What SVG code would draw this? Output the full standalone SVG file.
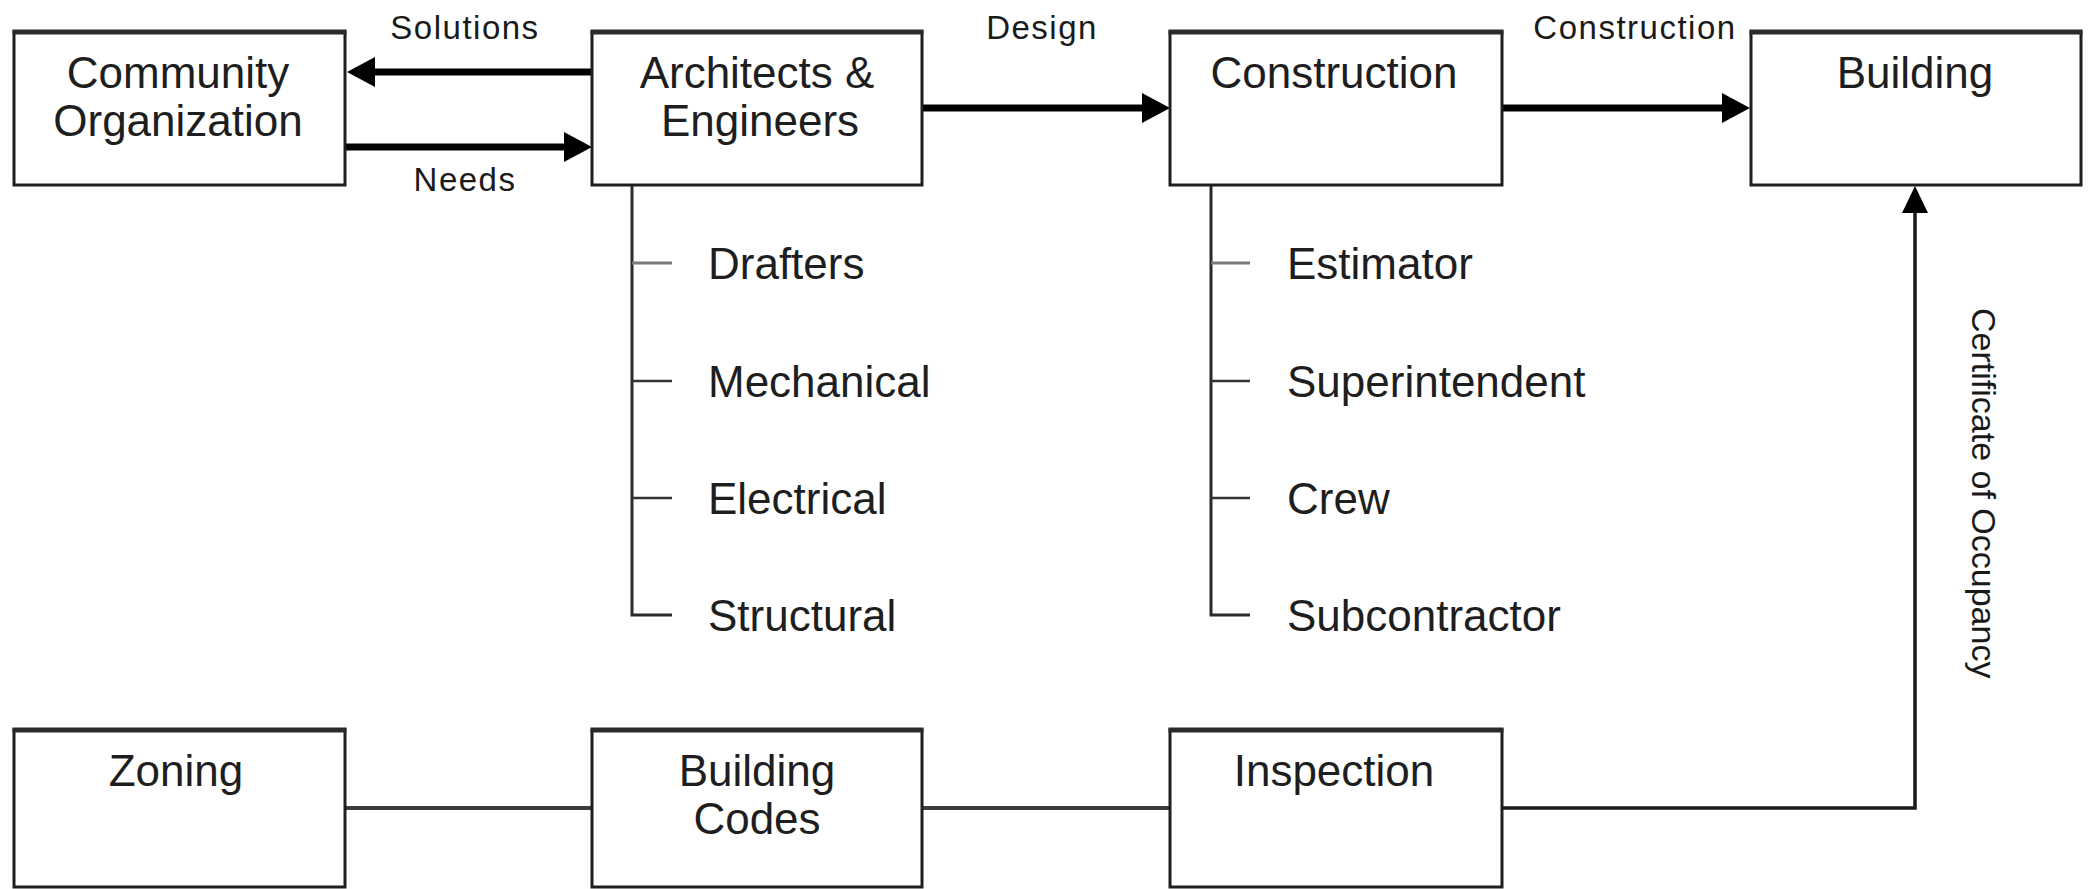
<svg xmlns="http://www.w3.org/2000/svg" width="2089" height="889" viewBox="0 0 2089 889">
  <style>
    .box { fill: #ffffff; stroke: #1e1e1e; stroke-width: 3; }
    .boxtop { stroke: #2a2a2a; stroke-width: 5; }
    .lbl { font-family: "Liberation Sans", Arial, sans-serif; font-size: 44px; fill: #1e1e1e; text-anchor: middle; }
    .sub { font-family: "Liberation Sans", Arial, sans-serif; font-size: 44px; fill: #1e1e1e; }
    .elbl { font-family: "Liberation Sans", Arial, sans-serif; font-size: 33px; fill: #1a1a1a; text-anchor: middle; letter-spacing: 1.5px; }
    .vlbl { font-family: "Liberation Sans", Arial, sans-serif; font-size: 34px; fill: #1a1a1a; }
    .thick { fill: none; stroke: #000000; stroke-width: 7; }
    .thin { fill: none; stroke: #1a1a1a; stroke-width: 3.5; }
    .gline { fill: none; stroke: #3c3c3c; stroke-width: 4; }
    .trunk { fill: none; stroke: #2a2a2a; stroke-width: 3; }
    .tick { fill: none; stroke: #333333; stroke-width: 2.5; }
    .tickl { fill: none; stroke: #7a7a7a; stroke-width: 3; }
  </style>
  <defs>
    <marker id="ah" markerUnits="userSpaceOnUse" markerWidth="30" markerHeight="30" refX="16" refY="15" orient="auto">
      <path d="M0,0 L28,15 L0,30 Z" fill="#000000"/>
    </marker>
    <marker id="ahs" markerUnits="userSpaceOnUse" markerWidth="28" markerHeight="26" refX="14" refY="13" orient="auto">
      <path d="M0,0 L27,13 L0,26 Z" fill="#000000"/>
    </marker>
  </defs>
  <rect width="2089" height="889" fill="#ffffff"/>

  <g id="connectors">
    <line class="thick" x1="592" y1="72" x2="359" y2="72" marker-end="url(#ah)"/>
    <line class="thick" x1="345" y1="147" x2="580" y2="147" marker-end="url(#ah)"/>
    <line class="thick" x1="922" y1="108" x2="1158" y2="108" marker-end="url(#ah)"/>
    <line class="thick" x1="1502" y1="108" x2="1738" y2="108" marker-end="url(#ah)"/>
    <polyline class="gline" points="345,808 592,808"/>
    <polyline class="gline" points="922,808 1170,808"/>
    <polyline class="thin" points="1502,808 1915,808 1915,199" marker-end="url(#ahs)"/>
    <polyline class="trunk" points="632,185 632,615 672,615"/>
    <line class="tickl" x1="632" y1="263" x2="672" y2="263"/>
    <line class="tick" x1="632" y1="381" x2="672" y2="381"/>
    <line class="tick" x1="632" y1="498" x2="672" y2="498"/>
    <polyline class="trunk" points="1211,185 1211,615 1250,615"/>
    <line class="tickl" x1="1211" y1="263" x2="1250" y2="263"/>
    <line class="tick" x1="1211" y1="381" x2="1250" y2="381"/>
    <line class="tick" x1="1211" y1="498" x2="1250" y2="498"/>
    <text class="elbl" x="465" y="39">Solutions</text>
    <text class="elbl" x="465" y="191">Needs</text>
    <text class="elbl" x="1042" y="39">Design</text>
    <text class="elbl" x="1635" y="39">Construction</text>
    <text class="vlbl" transform="translate(1972,308) rotate(90)">Certificate of Occupancy</text>
  </g>

  <g id="community">
    <rect class="box" x="14" y="32" width="331" height="153"/>
    <line class="boxtop" x1="12.5" y1="32" x2="346.5" y2="32"/>
    <text class="lbl" x="178" y="88">Community</text>
    <text class="lbl" x="178" y="136">Organization</text>
  </g>
  <g id="architects">
    <rect class="box" x="592" y="32" width="330" height="153"/>
    <line class="boxtop" x1="590.5" y1="32" x2="923.5" y2="32"/>
    <text class="lbl" x="757" y="88">Architects &amp;</text>
    <text class="lbl" x="760" y="136">Engineers</text>
  </g>
  <g id="construction">
    <rect class="box" x="1170" y="32" width="332" height="153"/>
    <line class="boxtop" x1="1168.5" y1="32" x2="1503.5" y2="32"/>
    <text class="lbl" x="1334" y="88">Construction</text>
  </g>
  <g id="building">
    <rect class="box" x="1751" y="32" width="330" height="153"/>
    <line class="boxtop" x1="1749.5" y1="32" x2="2082.5" y2="32"/>
    <text class="lbl" x="1915" y="88">Building</text>
  </g>

  <g id="ae-roles">
    <text class="sub" x="708" y="279">Drafters</text>
    <text class="sub" x="708" y="397">Mechanical</text>
    <text class="sub" x="708" y="514">Electrical</text>
    <text class="sub" x="708" y="631">Structural</text>
  </g>
  <g id="construction-roles">
    <text class="sub" x="1287" y="279">Estimator</text>
    <text class="sub" x="1287" y="397">Superintendent</text>
    <text class="sub" x="1287" y="514">Crew</text>
    <text class="sub" x="1287" y="631">Subcontractor</text>
  </g>

  <g id="zoning">
    <rect class="box" x="14" y="730" width="331" height="157"/>
    <line class="boxtop" x1="12.5" y1="730" x2="346.5" y2="730"/>
    <text class="lbl" x="176" y="786">Zoning</text>
  </g>
  <g id="building-codes">
    <rect class="box" x="592" y="730" width="330" height="157"/>
    <line class="boxtop" x1="590.5" y1="730" x2="923.5" y2="730"/>
    <text class="lbl" x="757" y="786">Building</text>
    <text class="lbl" x="757" y="834">Codes</text>
  </g>
  <g id="inspection">
    <rect class="box" x="1170" y="730" width="332" height="157"/>
    <line class="boxtop" x1="1168.5" y1="730" x2="1503.5" y2="730"/>
    <text class="lbl" x="1334" y="786">Inspection</text>
  </g>
</svg>
